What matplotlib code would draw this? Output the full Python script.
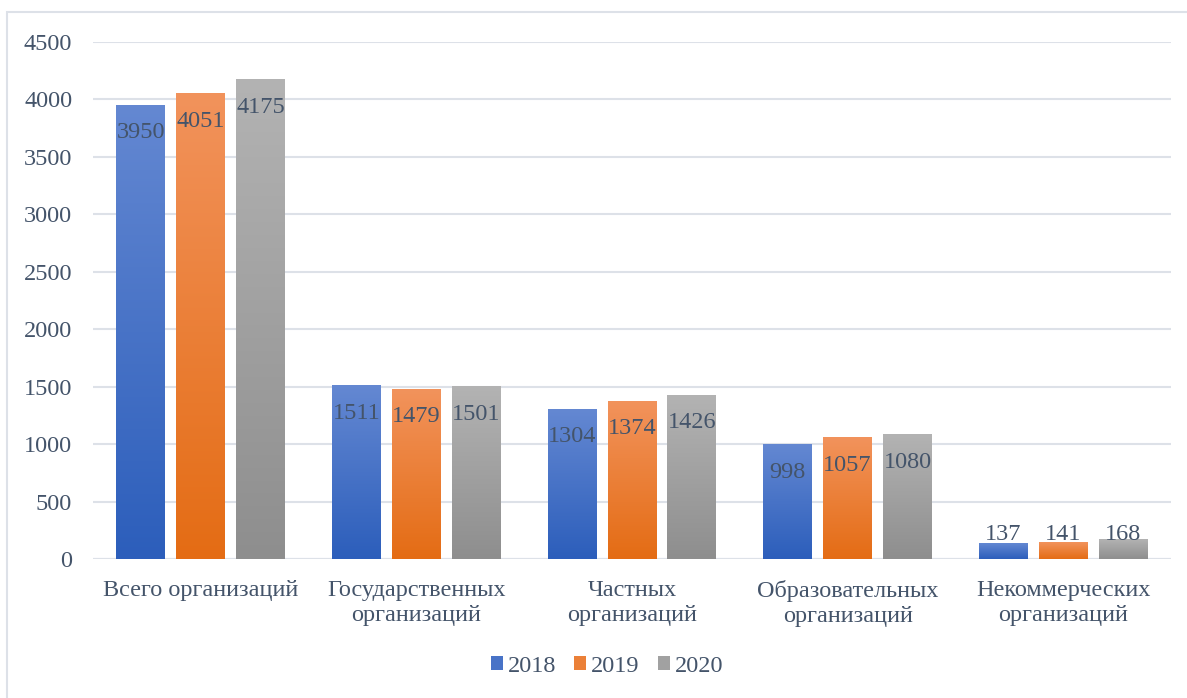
import numpy as np
import matplotlib
matplotlib.use('Agg')
from matplotlib import pyplot as plt
from matplotlib.patches import Patch, Rectangle
from matplotlib.colors import LinearSegmentedColormap

plt.rcParams['font.family'] = ['Liberation Serif', 'DejaVu Serif']

CATEGORIES = ['Всего организаций', 'Государственных\nорганизаций', 'Частных\nорганизаций',
              'Образовательных\nорганизаций', 'Некоммерческих\nорганизаций']
YEARS = ['2018', '2019', '2020']
V2018 = [3950, 1511, 1304, 998, 137]
V2019 = [4051, 1479, 1374, 1057, 141]
V2020 = [4175, 1501, 1426, 1080, 168]
YTICKS = [0, 500, 1000, 1500, 2000, 2500, 3000, 3500, 4000, 4500]

# (top colour, bottom colour) of the gradient fill
GRADIENTS = [('#6488D2', '#2C5EBB'), ('#F2935C', '#E46C14'), ('#B3B3B3', '#8E8E8E')]
TEXT = '#44546A'
GRID = '#DDE1E8'
FS = 17.5

fig = plt.figure(figsize=(11.87, 6.98), dpi=100)
W, H = 1187, 698
ax = fig.add_axes([93 / W, 1 - 559 / H, (1171 - 93) / W, (559 - 42) / H])

# outer chart border (only left/top visible in the picture)
fig.patches.append(Rectangle((7 / W, -0.1), 1.2, 1 - 12 / H + 0.1, transform=fig.transFigure,
                             fill=False, edgecolor=GRID, linewidth=1.5))

x = np.arange(len(CATEGORIES))
width = 0.227
step = 0.278
grad = np.linspace(1, 0, 256).reshape(-1, 1)

for i, (vals, (top, bot)) in enumerate(zip([V2018, V2019, V2020], GRADIENTS)):
    cmap = LinearSegmentedColormap.from_list('g%d' % i, [bot, top])
    for xc, v in zip(x + (i - 1) * step, vals):
        ax.imshow(grad, extent=[xc - width / 2, xc + width / 2, 0, v], aspect='auto',
                  cmap=cmap, zorder=3, interpolation='bicubic')
        if v > 450:
            ax.annotate(str(v), xy=(xc, v), xytext=(0, -20), textcoords='offset points',
                        ha='center', va='center', fontsize=FS, color=TEXT, zorder=4)
        else:
            ax.annotate(str(v), xy=(xc, 0), xytext=(0, 17.5), textcoords='offset points',
                        ha='center', va='center', fontsize=FS, color=TEXT, zorder=4)

ax.set_xlim(-0.5, len(CATEGORIES) - 0.5)
ax.set_ylim(0, 4500)
ax.set_yticks(YTICKS)
ax.set_xticks(x)
ax.set_xticklabels(CATEGORIES, fontsize=FS, color=TEXT, linespacing=1.27)
ax.tick_params(axis='y', length=0, pad=15, labelsize=FS, labelcolor=TEXT)
ax.tick_params(axis='x', length=0, pad=15)
ax.yaxis.grid(True, color=GRID, linewidth=1.5, zorder=0)
ax.set_axisbelow(True)
for s in ax.spines.values():
    s.set_visible(False)
ax.axhline(0, color=GRID, linewidth=1.5, zorder=2)

handles = [Patch(facecolor=LinearSegmentedColormap.from_list('h', [b, t])(0.5), edgecolor='none')
           for t, b in GRADIENTS]
fig.legend(handles, YEARS, loc='center', bbox_to_anchor=(607 / W, 1 - 666 / H), ncol=3,
           frameon=False, fontsize=FS, labelcolor=TEXT, handlelength=0.5, handleheight=0.5,
           handletextpad=0.2, columnspacing=0.75)

fig.savefig('out.png', dpi=100)
